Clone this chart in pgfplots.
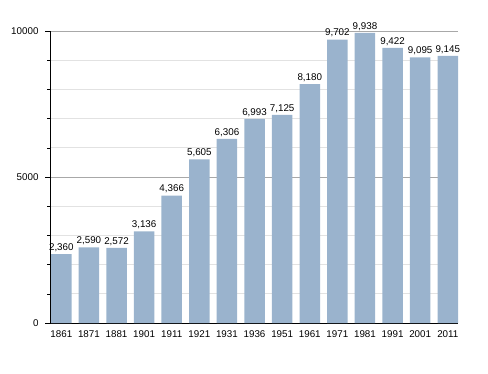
\documentclass[border=0pt]{standalone}
\usepackage{pgfplots}
\pgfplotsset{compat=1.18}
\usepackage{fontspec}
\setmainfont{Liberation Sans}
\definecolor{barc}{HTML}{9AB3CD}
\definecolor{majg}{HTML}{A8A8A8}
\definecolor{ming}{HTML}{E2E2E2}
\begin{document}
\begin{tikzpicture}[x=1pt,y=1pt]
\path (0,0) rectangle (488,373);
\begin{axis}[
  at={(50pt,50pt)}, anchor=south west,
  scale only axis, width=408pt, height=292pt,
  xmin=-0.41, xmax=14.37, ymin=0, ymax=10000,
  axis x line*=bottom, axis y line*=left,
  axis line style={black, line width=0.8pt, -},
  xtick=data,
  xticklabels={1861,1871,1881,1901,1911,1921,1931,1936,1951,1961,1971,1981,1991,2001,2011},
  x tick style={draw=none},
  scaled y ticks=false,
  ytick={0,5000,10000},
  minor ytick={1000,2000,3000,4000,6000,7000,8000,9000},
  yticklabels={0,5000,10000},
  y tick style={black, line width=0.5pt},
  tick align=outside,
  major tick length=5pt, minor tick length=3pt,
  ymajorgrids, yminorgrids,
  major grid style={majg, line width=0.8pt},
  minor grid style={ming, line width=0.8pt},
  tick label style={font=\fontsize{9.8}{11}\selectfont},
  /pgf/number format/assume math mode=true,
  xticklabel style={yshift=1pt},
  yticklabel style={xshift=-3pt},
  set layers,
  ybar, bar width=20.5pt,
  nodes near coords,
  nodes near coords style={font=\fontsize{9.8}{11}\selectfont, /pgf/number format/.cd, 1000 sep={,}, assume math mode=true, fixed, precision=0, /tikz/.cd, yshift=-1pt},
]
\addplot[fill=barc, draw=none] coordinates {
(0,2360) (1,2590) (2,2572) (3,3136) (4,4366) (5,5605) (6,6306) (7,6993)
(8,7125) (9,8180) (10,9702) (11,9938) (12,9422) (13,9095) (14,9145)};
\end{axis}
\end{tikzpicture}
\end{document}
